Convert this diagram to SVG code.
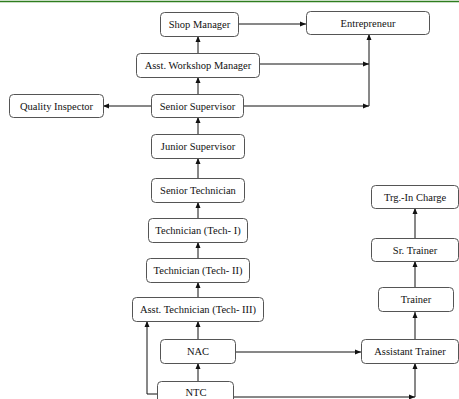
<svg xmlns="http://www.w3.org/2000/svg" width="459" height="399" viewBox="0 0 459 399">
<style>
.box{fill:#fff;stroke:#555;stroke-width:1}
.t{font-family:'Liberation Serif','Times New Roman',serif;font-size:10.5px;fill:#111;text-anchor:middle}
.c{fill:none;stroke:#111;stroke-width:1}
</style>
<defs>
<marker id="ah" viewBox="0 0 6 6" refX="6" refY="3" markerWidth="6" markerHeight="6" markerUnits="userSpaceOnUse" orient="auto">
<path d="M0,0.5 L6,3 L0,5.5 Z" fill="#111"/>
</marker>
</defs>
<rect width="459" height="399" fill="#fff"/>
<line x1="0" y1="1.5" x2="459" y2="1.5" stroke="#2e7d1e" stroke-width="1.5"/>
<g id="connectors">
<path class="c" d="M198,53 V36" marker-end="url(#ah)"/>
<path class="c" d="M198,94 V77" marker-end="url(#ah)"/>
<path class="c" d="M198,134 V117" marker-end="url(#ah)"/>
<path class="c" d="M198,178 V158" marker-end="url(#ah)"/>
<path class="c" d="M198,218 V202" marker-end="url(#ah)"/>
<path class="c" d="M198,258 V242" marker-end="url(#ah)"/>
<path class="c" d="M198,297 V282" marker-end="url(#ah)"/>
<path class="c" d="M198,339 V321" marker-end="url(#ah)"/>
<path class="c" d="M198,381 V363" marker-end="url(#ah)"/>
<path class="c" d="M157,394 H147 V321" marker-end="url(#ah)"/>
<path class="c" d="M235,352 H361" marker-end="url(#ah)"/>
<path class="c" d="M233,397 H415" marker-end="url(#ah)"/>
<path class="c" d="M415,397 V363" marker-end="url(#ah)"/>
<path class="c" d="M415,339 V312" marker-end="url(#ah)"/>
<path class="c" d="M415,287 V261" marker-end="url(#ah)"/>
<path class="c" d="M415,238 V208" marker-end="url(#ah)"/>
<path class="c" d="M151,106 H103" marker-end="url(#ah)"/>
<path class="c" d="M259,64 H369" marker-end="url(#ah)"/>
<path class="c" d="M243,106 H369" marker-end="url(#ah)"/>
<path class="c" d="M369,106 V34" marker-end="url(#ah)"/>
<path class="c" d="M238,24 H306" marker-end="url(#ah)"/>
</g>
<g id="shop-manager"><rect class="box" x="160.5" y="12.5" width="78" height="24" rx="4"/><text class="t" x="199.5" y="28">Shop Manager</text></g>
<g id="entrepreneur"><rect class="box" x="306.5" y="11.5" width="123" height="23" rx="4"/><text class="t" x="368" y="26.5">Entrepreneur</text></g>
<g id="asst-workshop-manager"><rect class="box" x="136.5" y="53.5" width="123" height="24" rx="4"/><text class="t" x="198" y="69">Asst. Workshop Manager</text></g>
<g id="senior-supervisor"><rect class="box" x="151.5" y="94.5" width="92" height="23" rx="4"/><text class="t" x="197.5" y="109.5">Senior Supervisor</text></g>
<g id="quality-inspector"><rect class="box" x="9.5" y="94.5" width="94" height="23" rx="4"/><text class="t" x="56.5" y="109.5">Quality Inspector</text></g>
<g id="junior-supervisor"><rect class="box" x="151.5" y="134.5" width="93" height="24" rx="4"/><text class="t" x="198" y="150">Junior Supervisor</text></g>
<g id="senior-technician"><rect class="box" x="151.5" y="178.5" width="93" height="24" rx="4"/><text class="t" x="198" y="194">Senior Technician</text></g>
<g id="tech-1"><rect class="box" x="148.5" y="218.5" width="99" height="24" rx="4"/><text class="t" x="198" y="234">Technician (Tech- I)</text></g>
<g id="tech-2"><rect class="box" x="146.5" y="258.5" width="103" height="24" rx="4"/><text class="t" x="198" y="274">Technician (Tech- II)</text></g>
<g id="asst-tech-3"><rect class="box" x="132.5" y="297.5" width="131" height="24" rx="4"/><text class="t" x="198" y="313">Asst. Technician (Tech- III)</text></g>
<g id="nac"><rect class="box" x="160.5" y="339.5" width="75" height="24" rx="4"/><text class="t" x="198" y="355">NAC</text></g>
<g id="ntc"><rect class="box" x="157.5" y="381.5" width="76" height="24" rx="4"/><text class="t" x="196" y="396">NTC</text></g>
<g id="assistant-trainer"><rect class="box" x="361.5" y="339.5" width="97" height="24" rx="4"/><text class="t" x="410" y="355">Assistant Trainer</text></g>
<g id="trainer"><rect class="box" x="378.5" y="287.5" width="75" height="24" rx="4"/><text class="t" x="416" y="303">Trainer</text></g>
<g id="sr-trainer"><rect class="box" x="371.5" y="238.5" width="87" height="23" rx="4"/><text class="t" x="415" y="253.5">Sr. Trainer</text></g>
<g id="trg-in-charge"><rect class="box" x="371.5" y="185.5" width="87" height="23" rx="4"/><text class="t" x="415" y="200.5">Trg.-In Charge</text></g>
</svg>
